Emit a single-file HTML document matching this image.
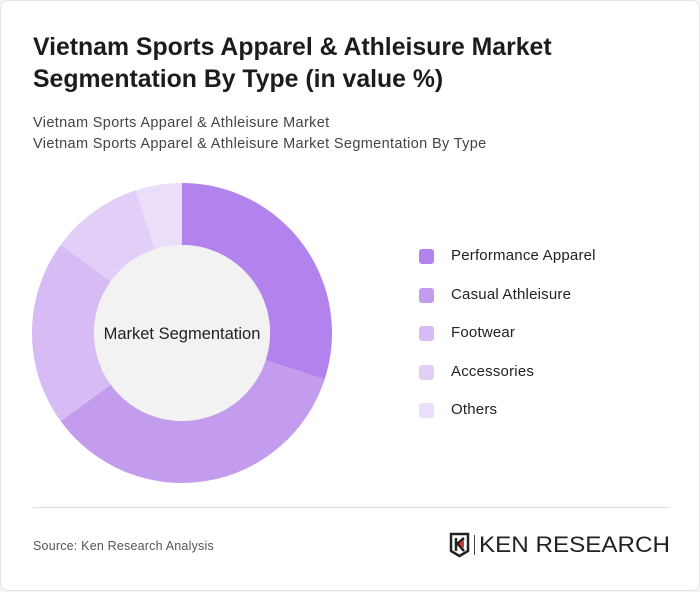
<!DOCTYPE html>
<html><head><meta charset="utf-8"><style>
body{margin:0;width:700px;height:591px;background:#f4f4f6;font-family:"Liberation Sans",sans-serif;}
#card{position:absolute;left:0;top:0;width:698px;height:589px;background:#fff;border:1px solid #e3e3e8;border-radius:8px;}
.t{position:absolute;left:32px;font-weight:bold;font-size:24.8px;color:#1c1c1c;}
.s{position:absolute;left:32px;font-size:14.5px;color:#444;letter-spacing:0.35px;}
.leg{position:absolute;left:418px;font-size:15px;color:#222;}
.leg i{position:absolute;left:0;top:2px;width:15px;height:15px;border-radius:3px;}
.leg span{position:absolute;left:32px;top:0;white-space:nowrap;letter-spacing:0.2px;}
</style></head><body>
<div id="card">
<div class="t" style="top:33px">Vietnam Sports Apparel &amp; Athleisure Market</div>
<div class="t" style="top:65px">Segmentation By Type (in value %)</div>
<div class="s" style="top:114px">Vietnam Sports Apparel &amp; Athleisure Market</div>
<div class="s" style="top:135px">Vietnam Sports Apparel &amp; Athleisure Market Segmentation By Type</div>
<svg id="chart" width="700" height="591" style="position:absolute;left:0;top:0"></svg>
<div id="legend"></div>
<div style="position:absolute;left:32px;top:506px;width:636px;height:1px;background:#ddd"></div>
<div style="position:absolute;left:32px;top:538px;font-size:12.5px;color:#555;letter-spacing:0.2px">Source: Ken Research Analysis</div>
<div style="position:absolute;left:448px;top:530px;width:222px;height:28px">
<svg width="22" height="26" style="position:absolute;left:0;top:1px"><path d="M2 2H19V19L10.5 24L2 19Z" fill="none" stroke="#222" stroke-width="2.5"/><path d="M7 6V19M7 13L15 6M9 12L15 19" stroke="#222" stroke-width="2.5" fill="none"/><path d="M10 12L15 8V16Z" fill="#d33"/></svg>
<div style="position:absolute;left:25px;top:4px;width:1px;height:20px;background:#444"></div>
<div style="position:absolute;left:30px;top:1px;font-size:22px;color:#222;white-space:nowrap;transform:scaleX(1.1);transform-origin:left">KEN RESEARCH</div>
</div>
</div>
<script>
const categories=["Performance Apparel","Casual Athleisure","Footwear","Accessories","Others"];
const values=[30,35,20,10,5];
const colors=["#b383ed","#c49cee","#d6bbf5","#e2cff8","#ebdefa"];
const svg=document.getElementById('chart');
const cx=181,cy=332,R=150,r=88;
const total=values.reduce((a,b)=>a+b,0);
let acc=0;
function pt(a,rad){return [cx+rad*Math.sin(a),cy-rad*Math.cos(a)];}
values.forEach((v,i)=>{
 const a0=acc/total*2*Math.PI;acc+=v;const a1=acc/total*2*Math.PI;
 const large=(a1-a0)>Math.PI?1:0;
 const p0=pt(a0,R),p1=pt(a1,R),q1=pt(a1,r),q0=pt(a0,r);
 const p=document.createElementNS('http://www.w3.org/2000/svg','path');
 p.setAttribute('d',`M${p0}A${R},${R} 0 ${large} 1 ${p1}L${q1}A${r},${r} 0 ${large} 0 ${q0}Z`);
 p.setAttribute('fill',colors[i]);
 
 
 svg.appendChild(p);
});
const c=document.createElementNS('http://www.w3.org/2000/svg','circle');
c.setAttribute('cx',cx);c.setAttribute('cy',cy);c.setAttribute('r',r);c.setAttribute('fill','#f2f2f2');


svg.appendChild(c);
const t=document.createElementNS('http://www.w3.org/2000/svg','text');
t.setAttribute('x',cx);t.setAttribute('y',cy+6);t.setAttribute('text-anchor','middle');
t.setAttribute('font-size','16.5');t.setAttribute('fill','#222');t.setAttribute('font-family','Liberation Sans, sans-serif');
t.textContent='Market Segmentation';


svg.appendChild(t);
const leg=document.getElementById('legend');
categories.forEach((n,i)=>{
 const d=document.createElement('div');d.className='leg';d.style.top=(246+i*38.5)+'px';
 d.innerHTML=`<i style="background:${colors[i]}"></i><span>${n}</span>`;
 
 
 leg.appendChild(d);
});
</script>
</body></html>
